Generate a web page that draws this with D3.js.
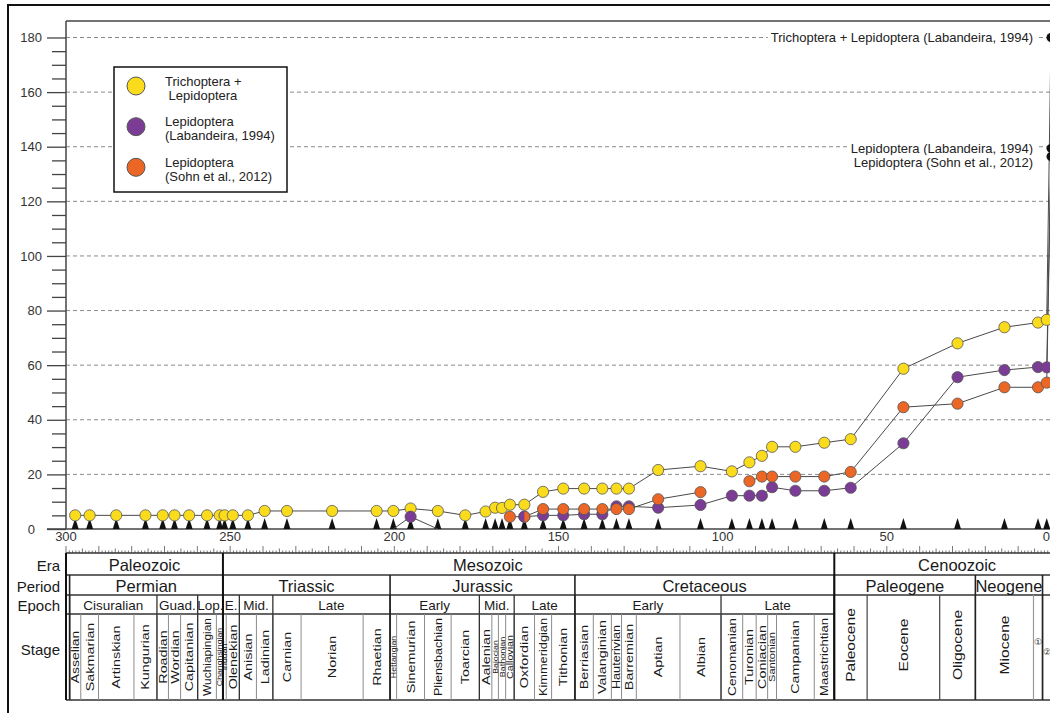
<!DOCTYPE html>
<html>
<head>
<meta charset="utf-8">
<script src="https://cdn.jsdelivr.net/npm/d3@7"></script>
<style>
body { margin: 0; background: #fff; }
svg { display: block; font-family: "Liberation Sans", Arial, sans-serif; }
</style>
</head>
<body>
<svg id="chart" width="1050" height="713"></svg>
<script>
// ---- geologic time scale (Ma, GTS2012) ----
var eraNames = ['Paleozoic', 'Mesozoic', 'Cenoozoic'],
    eraBounds = [300, 252.2, 66, 0];

var periodNames = ['', 'Permian', 'Triassic', 'Jurassic', 'Cretaceous', 'Paleogene', 'Neogene', ''],
    periodBounds = [300, 298.9, 252.2, 201.3, 145.0, 66.0, 23.03, 2.58, 0];

var epochNames = ['', 'Cisuralian', 'Guad.', 'Lop.', 'E.', 'Mid.', 'Late', 'Early', 'Mid.', 'Late', 'Early', 'Late'],
    epochBounds = [300, 298.9, 272.3, 259.9, 252.2, 247.2, 237.0, 201.3, 174.1, 163.5, 145.0, 100.5, 66.0];

// Cenozoic epochs fill both the epoch and the stage rows
var cenoNames = ['Paleocene', 'Eocene', 'Oligocene', 'Miocene', '\u2460', '\u2461', ''],
    cenoBounds = [66.0, 56.0, 33.9, 23.03, 5.333, 2.58, 0.0117, 0];

var stageNames = ['', 'Asselian', 'Sakmarian', 'Artinskian', 'Kungurian', 'Roadian', 'Wordian', 'Capitanian',
    'Wuchiapingian', 'Changhsingian', 'Induan', 'Olenekian', 'Anisian', 'Ladinian', 'Carnian', 'Norian', 'Rhaetian',
    'Hettangian', 'Sinemurian', 'Pliensbachian', 'Toarcian', 'Aalenian', 'Bajocian', 'Bathonian', 'Callovian',
    'Oxfordian', 'Kimmeridgian', 'Tithonian', 'Berriasian', 'Valanginian', 'Hauterivian', 'Barremian', 'Aptian',
    'Albian', 'Cenomanian', 'Turonian', 'Coniacian', 'Santonian', 'Campanian', 'Maastrichtian'];
var stageBounds = [300, 298.9, 295.5, 290.1, 279.3, 272.3, 268.8, 265.1, 259.9, 254.2, 252.2, 251.2, 247.2, 242.0,
    237.0, 228.4, 209.5, 201.3, 199.3, 190.8, 182.7, 174.1, 170.3, 168.3, 166.1, 163.5, 157.3, 152.1, 145.0, 139.4,
    133.9, 130.8, 126.3, 113.0, 100.5, 93.9, 89.8, 86.3, 83.6, 72.1, 66.0];

// ---- family counts, one value per stage (midpoint age), last one = Recent ----
var pointAges = [297.2, 292.8, 284.7, 275.8, 270.55, 266.95, 262.5, 257.05, 253.2, 251.7, 249.2, 244.6, 239.5,
    232.7, 218.95, 205.4, 200.3, 195.05, 186.75, 178.4, 172.2, 169.3, 167.2, 164.8, 160.4, 154.7, 148.55, 142.2,
    136.65, 132.35, 128.55, 119.65, 106.75, 97.2, 91.85, 88.05, 84.95, 77.85, 69.05, 61.0, 44.95, 28.47, 14.18,
    3.96, 1.3, 0];

var trichLepValues = [5, 5, 5, 5, 5, 5, 5, 5, 5, 5, 5, 5, 6.6, 6.6, 6.6, 6.6, 6.6, 7.5, 6.6, 5.0, 6.4, 7.8, 7.7,
    8.9, 8.9, 13.6, 14.8, 14.8, 14.8, 14.8, 14.8, 21.6, 23.0, 21.1, 24.4, 26.8, 30.1, 30.1, 31.6, 32.9, 58.7, 68.0,
    73.9, 75.6, 76.6, 180];

var labandeiraValues = [null, null, null, null, null, null, null, null, null, null, null, null, null, null, null,
    null, 0, 4.5, 0, null, null, null, null, null, 4.5, 5.0, 5.0, 5.4, 5.4, 8.3, 8.3, 7.8, 8.8, 12.2, 12.2, 12.2,
    15.3, 14.0, 14.0, 15.1, 31.4, 55.6, 58.2, 59.3, 59.2, 139.4];

var sohnValues = [null, null, null, null, null, null, null, null, null, null, null, null, null, null, null,
    null, null, null, null, null, null, null, null, 4.5, 4.5, 7.3, 7.3, 7.3, 7.3, 7.3, 7.3, 10.9, 13.5, null, 17.5,
    19.2, 19.2, 19.2, 19.2, 20.9, 44.6, 45.9, 51.9, 51.9, 53.6, 136.4];

var seriesNames = ['Trichoptera + Lepidoptera (Labandeira, 1994)', 'Lepidoptera (Labandeira, 1994)',
    'Lepidoptera (Sohn et al., 2012)'];
var legendLabels = [['Trichoptera +', ' Lepidoptera'], ['Lepidoptera', '(Labandeira, 1994)'],
    ['Lepidoptera', '(Sohn et al., 2012)']];
var yTicks = [0, 20, 40, 60, 80, 100, 120, 140, 160, 180],
    xTicks = [300, 250, 200, 150, 100, 50, 0];

var colors = ['#fadc1c', '#7b3c95', '#ec6625'];

// ---- layout ----
var svg = d3.select('#chart');
var x = d3.scaleLinear().domain([300, 0]).range([66, 1051]),
    y = d3.scaleLinear().domain([0, 180]).range([529, 37.5]);

var rowEra = [553, 575], rowPeriod = [575, 595], rowEpoch = [595, 614], rowStage = [614, 700];

// outer frame
svg.append('rect').attr('x', 8).attr('y', 5).attr('width', 1100).attr('height', 800)
    .attr('fill', 'none').attr('stroke', '#111').attr('stroke-width', 2);

// grid lines
svg.append('g').selectAll('line').data(yTicks.filter(function(d) { return d > 0; }))
    .enter().append('line')
    .attr('x1', 66).attr('x2', 1051)
    .attr('y1', function(d) { return y(d); }).attr('y2', function(d) { return y(d); })
    .attr('stroke', '#8a8a8a').attr('stroke-dasharray', '4,3');

// plot top line + left axis line + baseline
svg.append('line').attr('x1', 66).attr('x2', 1051).attr('y1', 21).attr('y2', 21)
    .attr('stroke', '#444').attr('stroke-width', 1.5);
svg.append('line').attr('x1', 66).attr('x2', 66).attr('y1', 21).attr('y2', 529)
    .attr('stroke', '#444').attr('stroke-width', 1.5);
svg.append('line').attr('x1', 47).attr('x2', 1051).attr('y1', 529).attr('y2', 529)
    .attr('stroke', '#444').attr('stroke-width', 1.5);

// y axis
var yAxis = svg.append('g').attr('transform', 'translate(66,0)')
    .call(d3.axisLeft(y).tickValues(yTicks).tickSize(19).tickPadding(5));
var minorY = d3.range(5, 180, 5).filter(function(d) { return d % 20 !== 0; });
var yMinor = svg.append('g').attr('transform', 'translate(66,0)')
    .call(d3.axisLeft(y).tickValues(minorY).tickSize(14).tickFormat(''));
[yAxis, yMinor].forEach(function(g) {
    g.select('.domain').remove();
    g.selectAll('line').attr('stroke', '#444').attr('stroke-width', 1.3);
});
yAxis.selectAll('text').style('font-size', '13px').attr('fill', '#333')
    .filter(function(d) { return d === 0; }).attr('x', -31);

// x axis labels + ruler ticks
svg.append('g').selectAll('text').data(xTicks).enter().append('text')
    .attr('x', function(d) { return d === 0 ? 1050 : x(d); }).attr('y', 541)
    .attr('text-anchor', function(d) { return d === 0 ? 'end' : 'middle'; })
    .style('font-size', '13px').attr('fill', '#333')
    .text(function(d) { return d; });
svg.append('g').selectAll('line').data(d3.range(0, 301)).enter().append('line')
    .attr('x1', function(d) { return x(d); }).attr('x2', function(d) { return x(d); })
    .attr('y1', rowEra[0])
    .attr('y2', function(d) { return rowEra[0] - (d % 10 === 0 ? 7 : d % 5 === 0 ? 4.5 : 2.5); })
    .attr('stroke', '#555').attr('stroke-width', 0.8);

// ---- time scale table ----
var table = svg.append('g');
function hline(yy, x0, x1, w) {
    table.append('line').attr('x1', x0).attr('x2', x1).attr('y1', yy).attr('y2', yy)
        .attr('stroke', '#333').attr('stroke-width', w || 1.3);
}
function vline(t, y0, y1, col, w) {
    table.append('line').attr('x1', x(t)).attr('x2', x(t)).attr('y1', y0).attr('y2', y1)
        .attr('stroke', col).attr('stroke-width', w);
}
hline(rowEra[0], 66, 1051, 1.5);
hline(rowPeriod[0], 66, 1051);
hline(rowEpoch[0], 66, 1051);
hline(rowStage[0], 66, x(66));
hline(rowStage[1], 66, 1051, 1.5);

// stage boundaries (thin grey), then epoch, period, era on top
stageBounds.forEach(function(b) { vline(b, rowStage[0], rowStage[1], '#8c8c8c', 1); });
cenoBounds.forEach(function(b) {
    vline(b, rowEpoch[0], rowStage[1], (b === 5.333 || b === 0.0117) ? '#999' : '#444', 1.2);
});
epochBounds.forEach(function(b) { vline(b, rowEpoch[0], rowStage[1], '#333', 1.3); });
periodBounds.forEach(function(b) { vline(b, rowPeriod[0], rowStage[1], '#222', 1.6); });
eraBounds.forEach(function(b) { vline(b, rowEra[0], rowStage[1], '#111', 2); });

function cellLabels(names, bounds, row, size) {
    table.append('g').selectAll('text').data(names).enter().append('text')
        .attr('x', function(d, i) { return (x(bounds[i]) + x(bounds[i + 1])) / 2; })
        .attr('y', (row[0] + row[1]) / 2 + 1)
        .attr('dominant-baseline', 'central').attr('text-anchor', 'middle')
        .style('font-size', size).attr('fill', '#1a1a1a')
        .text(function(d) { return d; });
}
// era labels (Mesozoic sits left of centre in the original)
var eraLabelAge = [276.1, 171.5, 28.6];
table.append('g').selectAll('text').data(eraNames).enter().append('text')
    .attr('x', function(d, i) { return x(eraLabelAge[i]); })
    .attr('y', (rowEra[0] + rowEra[1]) / 2 + 1)
    .attr('dominant-baseline', 'central').attr('text-anchor', 'middle')
    .style('font-size', '16.5px').attr('fill', '#1a1a1a')
    .text(function(d) { return d; });
cellLabels(periodNames, periodBounds, rowPeriod, '16.5px');
cellLabels(epochNames, epochBounds, rowEpoch, '13.5px');

// stretch vertical labels along their length, as in the original
function stretch(sel, factor, maxLen) {
    sel.each(function() {
        var len = this.getComputedTextLength();
        if (len > 0) {
            d3.select(this).attr('textLength', Math.min(len * factor, maxLen))
                .attr('lengthAdjust', 'spacingAndGlyphs');
        }
    });
}

// vertical stage names
var stageMid = (rowStage[0] + rowStage[1]) / 2;
var stageText = table.append('g').selectAll('text').data(stageNames).enter().append('text')
    .attr('transform', function(d, i) {
        var cx = (x(stageBounds[i]) + x(stageBounds[i + 1])) / 2;
        return 'translate(' + cx + ',' + stageMid + ') rotate(-90)';
    })
    .attr('dominant-baseline', 'central').attr('text-anchor', 'middle')
    .style('font-size', function(d, i) {
        var w = x(stageBounds[i + 1]) - x(stageBounds[i]);
        return Math.max(7, Math.min(11.5, w * 1.0)) + 'px';
    })
    .attr('fill', '#1a1a1a')
    .text(function(d) { return d; });
stretch(stageText, 1.25, 78);

// Cenozoic epochs
var cenoText = table.append('g').selectAll('text').data(cenoNames).enter().append('text')
    .attr('transform', function(d, i) {
        var cx = (x(cenoBounds[i]) + x(cenoBounds[i + 1])) / 2;
        if (d.length === 1) return 'translate(' + cx + ',' + (i === 4 ? 642 : 652) + ')';
        return 'translate(' + cx + ',' + 645 + ') rotate(-90)';
    })
    .attr('dominant-baseline', 'central').attr('text-anchor', 'middle')
    .style('font-size', function(d) { return d.length === 1 ? '9px' : '13px'; })
    .attr('fill', '#1a1a1a')
    .text(function(d) { return d; });
stretch(cenoText.filter(function(d) { return d.length > 1; }), 1.2, 80);

// row titles
var rowTitles = [['Era', rowEra], ['Period', rowPeriod], ['Epoch', rowEpoch], ['Stage', [rowStage[0], 682]]];
svg.append('g').selectAll('text').data(rowTitles).enter().append('text')
    .attr('x', 60).attr('y', function(d) { return (d[1][0] + d[1][1]) / 2 + 1; })
    .attr('dominant-baseline', 'central').attr('text-anchor', 'end')
    .style('font-size', '15px').attr('fill', '#1a1a1a')
    .text(function(d) { return d[0]; });

// ---- data marks ----
// black triangles at every sampled stage
svg.append('g').selectAll('path').data(pointAges.slice(0, -1)).enter().append('path')
    .attr('d', function(d) {
        var px = x(d);
        return 'M' + (px - 3.5) + ',529L' + px + ',518L' + (px + 3.5) + ',529Z';
    })
    .attr('fill', '#111');

var allSeries = [trichLepValues, labandeiraValues, sohnValues];
var line = d3.line()
    .defined(function(d) { return d[1] !== null; })
    .x(function(d) { return x(d[0]); })
    .y(function(d) { return y(d[1]); });

allSeries.forEach(function(vals) {
    svg.append('path')
        .datum(pointAges.map(function(a, i) { return [a, vals[i]]; }))
        .attr('d', line)
        .attr('fill', 'none').attr('stroke', '#4a4a4a').attr('stroke-width', 1);
});

var half = d3.arc().innerRadius(0).outerRadius(5.6);
allSeries.forEach(function(vals, s) {
    var pts = pointAges.map(function(a, i) { return {a: a, v: vals[i], i: i}; })
        .filter(function(d) { return d.v !== null && d.v > 0 && d.a > 0; });
    var g = svg.append('g');
    pts.forEach(function(d) {
        var shared = s === 2 && labandeiraValues[d.i] === d.v;
        if (shared) {
            var gg = g.append('g').attr('transform', 'translate(' + x(d.a) + ',' + y(d.v) + ')');
            gg.append('path').attr('d', half({startAngle: Math.PI, endAngle: 2 * Math.PI})).attr('fill', colors[1]);
            gg.append('path').attr('d', half({startAngle: 0, endAngle: Math.PI})).attr('fill', colors[2]);
            gg.append('circle').attr('r', 5.6).attr('fill', 'none').attr('stroke', '#555').attr('stroke-width', 0.8);
        } else {
            g.append('circle').attr('cx', x(d.a)).attr('cy', y(d.v)).attr('r', 5.6)
                .attr('fill', colors[s]).attr('stroke', '#555').attr('stroke-width', 0.8);
        }
    });
});

// Recent values: black dots with labels
var recentIdx = pointAges.length - 1;
var labelShift = [0, 0, 6];
allSeries.forEach(function(vals, s) {
    var v = vals[recentIdx];
    var t = svg.append('text')
        .attr('x', 1033).attr('y', y(v) + labelShift[s])
        .attr('dominant-baseline', 'central').attr('text-anchor', 'end')
        .style('font-size', '13px').attr('fill', '#222')
        .text(seriesNames[s]);
    var bb = t.node().getBBox();
    svg.insert('rect', function() { return t.node(); })
        .attr('x', bb.x - 3).attr('y', bb.y).attr('width', bb.width + 6).attr('height', bb.height)
        .attr('fill', '#fff');
    svg.append('circle').attr('cx', x(0)).attr('cy', y(v)).attr('r', 4.5).attr('fill', '#111');
});

// ---- legend ----
var legend = svg.append('g');
legend.append('rect').attr('x', 114).attr('y', 67).attr('width', 173).attr('height', 125)
    .attr('fill', '#fff').attr('stroke', '#111').attr('stroke-width', 1.5);
var legendY = [86, 126.7, 167.3];
legendLabels.forEach(function(lines, i) {
    legend.append('circle').attr('cx', 136).attr('cy', legendY[i]).attr('r', 9)
        .attr('fill', colors[i]).attr('stroke', '#555').attr('stroke-width', 1);
    lines.forEach(function(txt, j) {
        legend.append('text').attr('x', 165).attr('y', legendY[i] - 5 + j * 14)
            .attr('dominant-baseline', 'central')
            .style('font-size', '13px').attr('fill', '#222')
            .style('white-space', 'pre')
            .text(txt);
    });
});
</script>
</body>
</html>
